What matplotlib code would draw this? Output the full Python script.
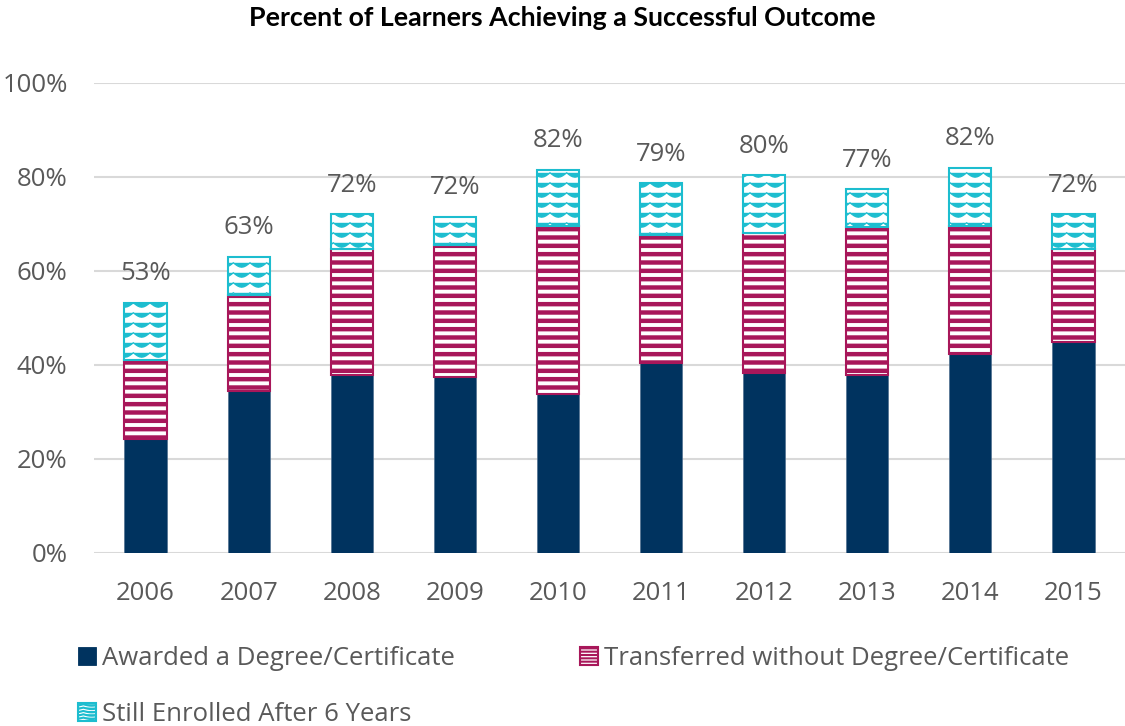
import numpy as np
import matplotlib
matplotlib.use("Agg")
import matplotlib.pyplot as plt
import matplotlib.hatch as mhatch
from matplotlib.path import Path
from matplotlib.patches import Patch

years = ["2006", "2007", "2008", "2009", "2010", "2011", "2012", "2013", "2014", "2015"]
awarded = [24.2, 34.5, 37.9, 37.4, 33.7, 40.3, 38.3, 37.8, 42.4, 44.9]
transferred = [16.9, 20.3, 26.8, 28.1, 35.9, 27.2, 29.7, 31.4, 27.2, 19.7]
enrolled = [12.0, 8.1, 7.3, 6.0, 11.9, 11.1, 12.3, 8.1, 12.3, 7.4]
total_labels = [53, 63, 72, 72, 82, 79, 80, 77, 82, 72]
yticks = [0, 20, 40, 60, 80, 100]

NAVY = "#00335F"
MAROON = "#A8175A"
CYAN = "#1DBDCF"
GRAY = "#595959"
GRID = "#D9D9D9"
FS = 18.5


# custom wavy hatch texture ('~')
class WaveHatch(mhatch.HatchPatternBase):
    def __init__(self, hatch, density):
        self.num_rows = int(hatch.count('~') * density * 10 / 6)
        self.periods = 6
        self.pts = self.periods * 8 + 1
        self.num_vertices = self.num_rows * self.pts

    def set_vertices_and_codes(self, vertices, codes):
        ys = (np.arange(self.num_rows) + 0.5) / self.num_rows
        xs = np.linspace(0, 1, self.pts)
        amp = 0.22 / self.num_rows
        wave = amp - 2 * amp * np.abs(np.sin(np.pi * self.periods * xs))
        for i, y in enumerate(ys):
            sl = slice(i * self.pts, (i + 1) * self.pts)
            vertices[sl, 0] = xs
            vertices[sl, 1] = y + wave
            codes[sl] = Path.LINETO
            codes[i * self.pts] = Path.MOVETO


mhatch._hatch_types.append(WaveHatch)
try:
    mhatch._validate_hatch_pattern = lambda h: None
except Exception:
    pass

plt.rcParams['font.family'] = ['Open Sans', 'DejaVu Sans']

fig = plt.figure(figsize=(11.25, 7.26), dpi=100)
ax = fig.add_axes([94 / 1125, 1 - 553 / 726, 1031 / 1125, (553 - 82.5) / 726])

x = np.arange(len(years))
w = 0.41
aw = np.array(awarded)
tr = np.array(transferred)
en = np.array(enrolled)

ax.bar(x, aw, w, color=NAVY, edgecolor="#4F6F8F", linewidth=0.5, zorder=3)
# transferred: white face, maroon horizontal stripes
plt.rcParams['hatch.linewidth'] = 3.2
ax.bar(x, tr, w, bottom=aw, facecolor="white", edgecolor=MAROON,
       hatch="--", linewidth=1.5, zorder=3)
plt.rcParams['hatch.linewidth'] = 0.9
ax.bar(x, en, w, bottom=aw + tr, facecolor="white", edgecolor=CYAN,
       hatch="~", linewidth=1.5, zorder=3)

tops = aw + tr + en
for xi, t, lab in zip(x, tops, total_labels):
    ax.annotate(f"{lab}%", (xi, t), xytext=(0, 12), textcoords="offset points",
                ha="center", va="bottom", fontsize=FS, color=GRAY)

ax.set_xlim(-0.5, len(years) - 0.5)
ax.set_ylim(0, 100)
ax.set_yticks(yticks)
ax.set_yticklabels([f"{v}%" for v in yticks])
ax.set_xticks(x)
ax.set_xticklabels(years)
ax.tick_params(axis="both", length=0, labelsize=FS, labelcolor=GRAY)
ax.tick_params(axis="y", pad=19)
ax.tick_params(axis="x", pad=20)
ax.yaxis.grid(True, color=GRID, linewidth=1.5, zorder=0)
ax.set_axisbelow(True)
for s in ax.spines.values():
    s.set_visible(False)

fig.text(0.5, 1 - 18 / 726, "Percent of Learners Achieving a Successful Outcome",
         ha="center", va="center", fontsize=19.3, fontweight="bold",
         family=["Lato", "DejaVu Sans"], color="black")

plt.rcParams['hatch.linewidth'] = 1.5
handles = [
    Patch(facecolor=NAVY, edgecolor=NAVY, linewidth=0.6, label="Awarded a Degree/Certificate"),
    Patch(facecolor="white", edgecolor=CYAN, hatch="~~~", linewidth=1.5, label="Still Enrolled After 6 Years"),
    Patch(facecolor="white", edgecolor=MAROON, hatch="-----", linewidth=1.5, label="Transferred without Degree/Certificate"),
]
leg = fig.legend(handles=handles, loc="upper left",
                 bbox_to_anchor=(78 / 1125, 1 - 646 / 726), ncol=2,
                 frameon=False, fontsize=FS, handlelength=0.7, handleheight=0.7,
                 handletextpad=0.25, labelspacing=1.2, columnspacing=4.85,
                 borderpad=0, borderaxespad=0)
for t in leg.get_texts():
    t.set_color(GRAY)

fig.savefig("out.png", dpi=100)
